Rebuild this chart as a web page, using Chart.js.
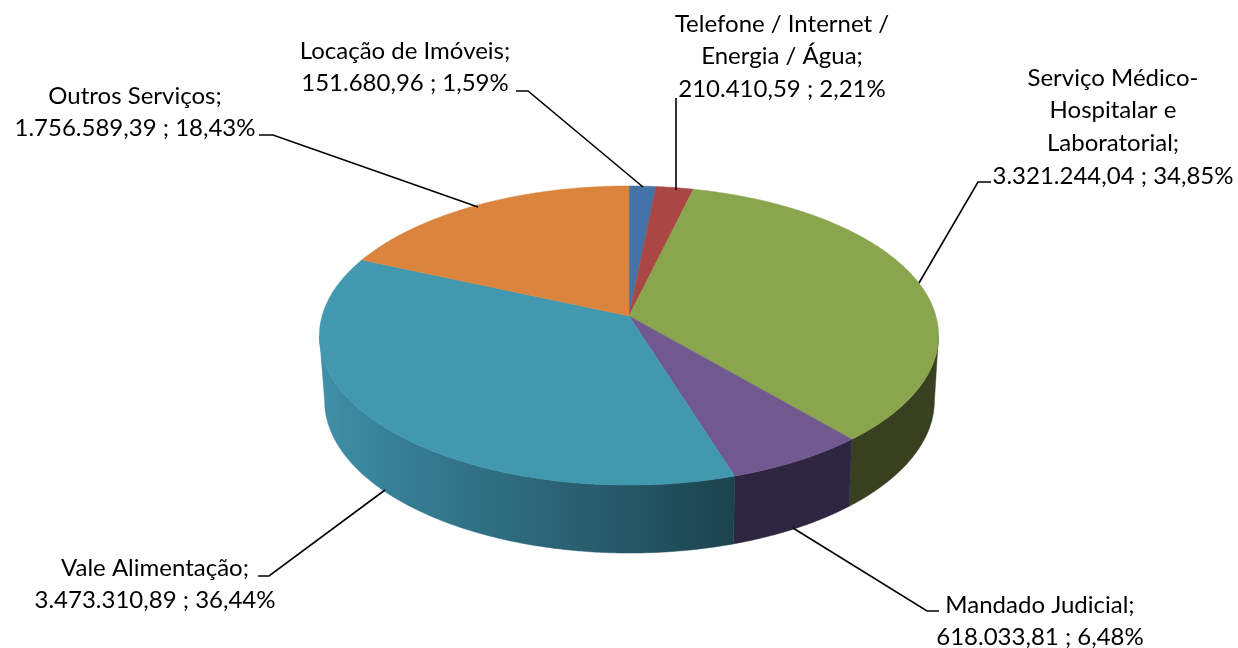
<!DOCTYPE html>
<html>
<head>
<meta charset="utf-8">
<style>
  html, body { margin: 0; background: #fff; }
  canvas { display: block; }
</style>
<script src="https://cdn.jsdelivr.net/npm/chart.js@4/dist/chart.umd.min.js"></script>
</head>
<body>
<canvas id="myChart" width="1238" height="648"></canvas>
<script>
const categories = ["Locação de Imóveis", "Telefone / Internet / Energia / Água", "Serviço Médico-Hospitalar e Laboratorial", "Mandado Judicial", "Vale Alimentação", "Outros Serviços"];
const values = [151680.96, 210410.59, 3321244.04, 618033.81, 3473310.89, 1756589.39];
const percents = ["1,59%", "2,21%", "34,85%", "6,48%", "36,44%", "18,43%"];
const nameLines = [
  ["Locação de Imóveis;"],
  ["Telefone / Internet /", "Energia / Água;"],
  ["Serviço Médico-", "Hospitalar e", "Laboratorial;"],
  ["Mandado Judicial;"],
  ["Vale Alimentação;"],
  ["Outros Serviços;"]
];

const topColors = ["#4572A7", "#AA4643", "#89A54E", "#71588F", "#4198AF", "#DB843D"];
const sideColors = ["#2b4668", "#6a2b2a", "#38411f", "#2e2540", null, "#88522a"];

// centre x and middle y of the first line of each label, then the leader line
const labelPos = [[405, 51], [782, 24], [1113, 78], [1040, 605], [155, 568], [135, 96]];
const lineHeight = 32.6;
const leaders = [
  [[516, 91], [528, 91], [643, 187]],
  [[676, 98], [676, 190]],
  [[991, 182], [978, 182], [919, 283]],
  [[939, 611], [927, 611], [793, 528]],
  [[258, 576], [269, 576], [385, 490]],
  [[259, 135], [273, 135], [478, 207]]
];

// perspective of the tilted disc, in pixels
const faceA = 147, faceB = 306.9, faceK = -0.1304;
const EDGE_CX = 629.5, EDGE_CY = 335.5;

function rimPoint(arc, t) {
  const d = 1 + faceK * Math.sin(t);
  return { x: arc.x + faceB * Math.cos(t) / d, y: arc.y + faceA * Math.sin(t) / d };
}
function lowerPoint(p) {
  return { x: 630 + (p.x - EDGE_CX) * 0.985, y: 400.5 + (p.y - EDGE_CY) * 1.02 };
}

const pie3d = {
  id: 'pie3d',
  beforeDatasetDraw(chart) {
    const ctx = chart.ctx;
    const arcs = chart.getDatasetMeta(0).data;
    const tMin = 7.5 * Math.PI / 180, tMax = 172.5 * Math.PI / 180;
    const step = Math.PI / 360;

    // side wall first
    arcs.forEach((arc, i) => {
      const t0 = Math.max(arc.startAngle, tMin);
      const t1 = Math.min(arc.endAngle, tMax);
      if (t1 <= t0) return;
      const upper = [];
      for (let t = t0; t < t1; t += step) upper.push(rimPoint(arc, t));
      upper.push(rimPoint(arc, t1));
      ctx.beginPath();
      upper.forEach((p, n) => n ? ctx.lineTo(p.x, p.y) : ctx.moveTo(p.x, p.y));
      upper.slice().reverse().forEach(p => { const q = lowerPoint(p); ctx.lineTo(q.x, q.y); });
      ctx.closePath();
      let fill = sideColors[i];
      if (!fill) {
        fill = ctx.createLinearGradient(325, 0, 735, 0);
        fill.addColorStop(0, '#3f8fa6');
        fill.addColorStop(0.2, '#357d92');
        fill.addColorStop(0.55, '#2b6476');
        fill.addColorStop(0.8, '#235260');
        fill.addColorStop(1, '#1b424d');
      }
      ctx.fillStyle = fill;
      ctx.strokeStyle = fill;
      ctx.lineWidth = 0.5;
      ctx.fill();
      ctx.stroke();
    });

    // top face
    arcs.forEach((arc, i) => {
      ctx.beginPath();
      ctx.moveTo(arc.x, arc.y);
      for (let t = arc.startAngle; t < arc.endAngle; t += step) {
        const p = rimPoint(arc, t);
        ctx.lineTo(p.x, p.y);
      }
      const last = rimPoint(arc, arc.endAngle);
      ctx.lineTo(last.x, last.y);
      ctx.closePath();
      ctx.fillStyle = topColors[i];
      ctx.strokeStyle = topColors[i];
      ctx.lineWidth = 0.5;
      ctx.fill();
      ctx.stroke();
    });
    return false;
  },
  afterDatasetsDraw(chart) {
    const ctx = chart.ctx;
    ctx.strokeStyle = '#000';
    ctx.lineWidth = 1.6;
    leaders.forEach(path => {
      ctx.beginPath();
      path.forEach((p, n) => n ? ctx.lineTo(p[0], p[1]) : ctx.moveTo(p[0], p[1]));
      ctx.stroke();
    });

    ctx.fillStyle = '#000';
    ctx.font = "24px Lato, 'Open Sans', sans-serif";
    ctx.textAlign = 'center';
    ctx.textBaseline = 'middle';
    values.forEach((v, i) => {
      const money = v.toLocaleString('pt-BR', { minimumFractionDigits: 2, maximumFractionDigits: 2 });
      const lines = nameLines[i].concat(money + " ; " + percents[i]);
      lines.forEach((line, n) => {
        ctx.fillText(line, labelPos[i][0], labelPos[i][1] + n * lineHeight);
      });
    });
  }
};

const pie_ctx = document.getElementById('myChart').getContext('2d');
const pie_chart = new Chart(pie_ctx, {
  type: 'pie',
  data: {
    labels: categories,
    datasets: [{
      label: "valor",
      backgroundColor: topColors,
      borderWidth: 0,
      data: values
    }]
  },
  options: {
    responsive: false,
    animation: false,
    // puts the apex of the pie at 629,316
    layout: { padding: { left: 20, right: 0, top: 0, bottom: 16 } },
    plugins: {
      legend: { display: false },
      tooltip: { enabled: false }
    }
  },
  plugins: [pie3d]
});
</script>
</body>
</html>
